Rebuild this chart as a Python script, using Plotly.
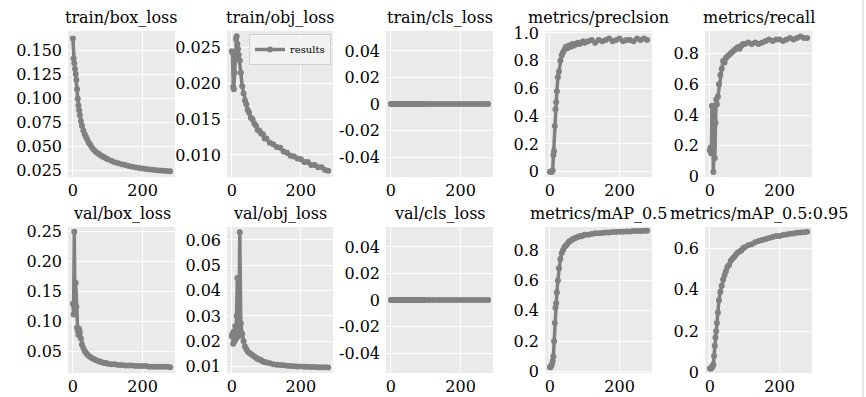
import plotly.graph_objects as go

# ---------------- data ----------------
epochs = [0, 2, 4, 6, 8, 10, 12, 14, 16, 18, 20, 23, 26, 30, 34, 38, 42, 46, 50,
          55, 60, 65, 70, 75, 80, 85, 90, 95, 100, 110, 120, 130, 140, 150, 160,
          170, 180, 190, 200, 210, 220, 230, 240, 250, 260, 270, 279]

train_box_loss = [0.163, 0.142, 0.137, 0.131, 0.126, 0.120, 0.110, 0.100, 0.093, 0.088, 0.083,
                  0.077, 0.072, 0.067, 0.063, 0.060, 0.057, 0.054, 0.052, 0.049, 0.047, 0.045,
                  0.0435, 0.0425, 0.041, 0.040, 0.039, 0.038, 0.037, 0.0355, 0.034, 0.0328,
                  0.0318, 0.031, 0.030, 0.0292, 0.0285, 0.0279, 0.0273, 0.0268, 0.0264, 0.026,
                  0.0256, 0.0253, 0.025, 0.0248, 0.0246]

train_obj_loss = [0.0245, 0.0243, 0.0195, 0.0192, 0.0215, 0.0240, 0.0262, 0.0266, 0.0255, 0.0248,
                  0.0240, 0.0232, 0.0215, 0.0196, 0.0186, 0.0176, 0.0171, 0.0163, 0.0159, 0.0152,
                  0.0150, 0.0144, 0.0141, 0.0135, 0.0134, 0.0130, 0.0129, 0.0123, 0.0123, 0.0117,
                  0.0115, 0.0111, 0.0110, 0.0105, 0.0103, 0.0099, 0.0098, 0.0095, 0.0094, 0.0090,
                  0.0090, 0.0086, 0.0086, 0.0083, 0.0083, 0.0079, 0.0078]

train_cls_loss = [0.0, 0.0, 0.0, 0.0, 0.0, 0.0, 0.0, 0.0, 0.0, 0.0, 0.0, 0.0, 0.0, 0.0, 0.0, 0.0,
                  0.0, 0.0, 0.0, 0.0, 0.0, 0.0, 0.0, 0.0, 0.0, 0.0, 0.0, 0.0, 0.0, 0.0, 0.0, 0.0,
                  0.0, 0.0, 0.0, 0.0, 0.0, 0.0, 0.0, 0.0, 0.0, 0.0, 0.0, 0.0, 0.0, 0.0, 0.0]

precision = [0.0, 0.0, 0.0, 0.0, 0.01, 0.12, 0.15, 0.33, 0.45, 0.50, 0.58, 0.68, 0.72, 0.80,
             0.84, 0.86, 0.88, 0.90, 0.89, 0.91, 0.90, 0.92, 0.91, 0.92, 0.93, 0.92, 0.93, 0.94,
             0.93, 0.94, 0.95, 0.93, 0.95, 0.94, 0.95, 0.96, 0.94, 0.95, 0.96, 0.94, 0.95, 0.95,
             0.94, 0.96, 0.95, 0.96, 0.95]

recall = [0.17, 0.19, 0.15, 0.46, 0.45, 0.03, 0.20, 0.12, 0.35, 0.50, 0.47, 0.52, 0.60, 0.66,
          0.70, 0.75, 0.74, 0.77, 0.78, 0.79, 0.80, 0.81, 0.82, 0.83, 0.84, 0.83, 0.85, 0.86,
          0.86, 0.87, 0.86, 0.87, 0.86, 0.87, 0.88, 0.89, 0.88, 0.89, 0.89, 0.88, 0.89, 0.90,
          0.89, 0.90, 0.91, 0.90, 0.90]

val_box_loss = [0.130, 0.112, 0.250, 0.130, 0.165, 0.125, 0.090, 0.085, 0.078, 0.088, 0.082,
                0.072, 0.062, 0.056, 0.051, 0.048, 0.045, 0.043, 0.041, 0.039, 0.038, 0.036,
                0.035, 0.034, 0.033, 0.032, 0.031, 0.031, 0.030, 0.029, 0.029, 0.028, 0.028,
                0.027, 0.027, 0.027, 0.026, 0.026, 0.026, 0.026, 0.025, 0.025, 0.025, 0.025,
                0.025, 0.025, 0.024]

val_obj_loss = [0.022, 0.023, 0.019, 0.024, 0.020, 0.026, 0.021, 0.030, 0.045, 0.025, 0.022,
                0.063, 0.027, 0.023, 0.020, 0.018, 0.017, 0.016, 0.0155, 0.015, 0.0145, 0.014,
                0.0135, 0.013, 0.0128, 0.0125, 0.012, 0.0118, 0.0116, 0.0113, 0.011, 0.0108,
                0.0107, 0.0106, 0.0104, 0.0103, 0.0102, 0.0101, 0.0101, 0.0100, 0.0100, 0.0099,
                0.0099, 0.0098, 0.0098, 0.0098, 0.0097]

val_cls_loss = [0.0, 0.0, 0.0, 0.0, 0.0, 0.0, 0.0, 0.0, 0.0, 0.0, 0.0, 0.0, 0.0, 0.0, 0.0, 0.0,
                0.0, 0.0, 0.0, 0.0, 0.0, 0.0, 0.0, 0.0, 0.0, 0.0, 0.0, 0.0, 0.0, 0.0, 0.0, 0.0,
                0.0, 0.0, 0.0, 0.0, 0.0, 0.0, 0.0, 0.0, 0.0, 0.0, 0.0, 0.0, 0.0, 0.0, 0.0]

map_05 = [0.03, 0.03, 0.04, 0.05, 0.07, 0.10, 0.20, 0.32, 0.42, 0.45, 0.52, 0.60, 0.68, 0.74,
          0.78, 0.80, 0.82, 0.83, 0.84, 0.855, 0.86, 0.87, 0.875, 0.88, 0.885, 0.89, 0.89,
          0.895, 0.90, 0.90, 0.905, 0.91, 0.91, 0.912, 0.915, 0.915, 0.918, 0.918, 0.92, 0.92,
          0.922, 0.922, 0.924, 0.925, 0.925, 0.926, 0.926]

map_05_095 = [0.02, 0.02, 0.02, 0.03, 0.03, 0.04, 0.08, 0.13, 0.17, 0.20, 0.24, 0.29, 0.35, 0.39,
              0.42, 0.45, 0.47, 0.49, 0.51, 0.52, 0.54, 0.55, 0.56, 0.57, 0.58, 0.585, 0.59,
              0.60, 0.605, 0.615, 0.62, 0.63, 0.635, 0.64, 0.645, 0.65, 0.655, 0.66, 0.66,
              0.665, 0.667, 0.67, 0.672, 0.675, 0.677, 0.678, 0.68]

titles = ["train/box_loss", "train/obj_loss", "train/cls_loss", "metrics/preclsion", "metrics/recall",
          "val/box_loss", "val/obj_loss", "val/cls_loss", "metrics/mAP_0.5", "metrics/mAP_0.5:0.95"]

series = [train_box_loss, train_obj_loss, train_cls_loss, precision, recall,
          val_box_loss, val_obj_loss, val_cls_loss, map_05, map_05_095]

x_tickvals = [0, 200]
x_ticktext = ["0", "200"]

y_tickvals = [
    [0.025, 0.05, 0.075, 0.1, 0.125, 0.15],
    [0.010, 0.015, 0.020, 0.025],
    [-0.04, -0.02, 0, 0.02, 0.04],
    [0, 0.2, 0.4, 0.6, 0.8, 1.0],
    [0, 0.2, 0.4, 0.6, 0.8],
    [0.05, 0.10, 0.15, 0.20, 0.25],
    [0.01, 0.02, 0.03, 0.04, 0.05, 0.06],
    [-0.04, -0.02, 0, 0.02, 0.04],
    [0, 0.2, 0.4, 0.6, 0.8],
    [0, 0.2, 0.4, 0.6],
]
y_ticktext = [
    ["0.025", "0.050", "0.075", "0.100", "0.125", "0.150"],
    ["0.010", "0.015", "0.020", "0.025"],
    ["-0.04", "-0.02", "0", "0.02", "0.04"],
    ["0", "0.2", "0.4", "0.6", "0.8", "1.0"],
    ["0", "0.2", "0.4", "0.6", "0.8"],
    ["0.05", "0.10", "0.15", "0.20", "0.25"],
    ["0.01", "0.02", "0.03", "0.04", "0.05", "0.06"],
    ["-0.04", "-0.02", "0", "0.02", "0.04"],
    ["0", "0.2", "0.4", "0.6", "0.8"],
    ["0", "0.2", "0.4", "0.6"],
]

# ---------------- layout / style ----------------
W, H = 866, 397
col_px = [(68, 175), (227, 333), (386, 493), (545, 652), (705, 812)]
row_px = [(31, 177), (227, 373)]
title_y_px = [17, 213]

y_ranges = [
    [0.0185, 0.1707], [0.00692, 0.02733], [-0.055, 0.055], [-0.038, 1.014], [-0.002, 0.945],
    [0.0145, 0.2578], [0.0075, 0.0651], [-0.055, 0.055], [-0.0086, 0.951], [-0.0015, 0.703],
]
x_range = [-14, 293]

FONT = "DejaVu Serif"
LINE_COLOR = "#808080"
BG = "#EAEAEA"

fig = go.Figure()
layout = dict(
    width=W, height=H,
    margin=dict(l=0, r=0, t=0, b=0),
    paper_bgcolor="white",
    plot_bgcolor=BG,
    font=dict(family=FONT, size=16, color="black"),
    showlegend=True,
    legend=dict(x=331 / W, y=1 - 34 / H, xanchor="right", yanchor="top",
                bgcolor="rgba(242,242,242,0.85)", bordercolor="#d0d0d0", borderwidth=1,
                font=dict(family=FONT, size=10, color="black"),
                itemwidth=30, tracegroupgap=0),
    annotations=[],
    shapes=[dict(type="line", xref="paper", yref="paper", x0=863 / W, x1=863 / W, y0=0, y1=1,
                 line=dict(color="#c8c8c8", width=1))],
)

for i in range(10):
    r, c = divmod(i, 5)
    n = i + 1
    xa = "xaxis" if n == 1 else f"xaxis{n}"
    ya = "yaxis" if n == 1 else f"yaxis{n}"
    xref = "x" if n == 1 else f"x{n}"
    yref = "y" if n == 1 else f"y{n}"
    x0, x1 = col_px[c]
    y0, y1 = row_px[r]
    layout[xa] = dict(domain=[x0 / W, x1 / W], anchor=yref, range=x_range,
                      tickvals=x_tickvals, ticktext=x_ticktext, showgrid=True,
                      gridcolor="white", gridwidth=1, zeroline=False, showline=False,
                      ticks="", ticklabelstandoff=2, automargin=False,
                      tickfont=dict(family=FONT, size=16, color="black"))
    layout[ya] = dict(domain=[1 - y1 / H, 1 - y0 / H], anchor=xref, range=y_ranges[i],
                      tickvals=y_tickvals[i], ticktext=y_ticktext[i], showgrid=True,
                      gridcolor="white", gridwidth=1, zeroline=False, showline=False,
                      ticks="", ticklabelstandoff=5, automargin=False,
                      tickfont=dict(family=FONT, size=16, color="black"))
    layout["annotations"].append(dict(
        text=titles[i], xref="paper", yref="paper",
        x=(x0 + x1) / 2 / W, y=1 - title_y_px[r] / H, xanchor="center", yanchor="middle",
        showarrow=False, font=dict(family=FONT, size=16, color="black")))
    fig.add_trace(go.Scatter(
        x=epochs, y=series[i], xaxis=xref, yaxis=yref, mode="lines+markers",
        name="results", showlegend=(i == 1),
        line=dict(color=LINE_COLOR, width=3.5),
        marker=dict(color=LINE_COLOR, size=6)))

fig.update_layout(**layout)
fig.write_html("out.html", config={"displayModeBar": False},
               post_script="document.body.style.margin='0';document.body.style.overflow='hidden';")
